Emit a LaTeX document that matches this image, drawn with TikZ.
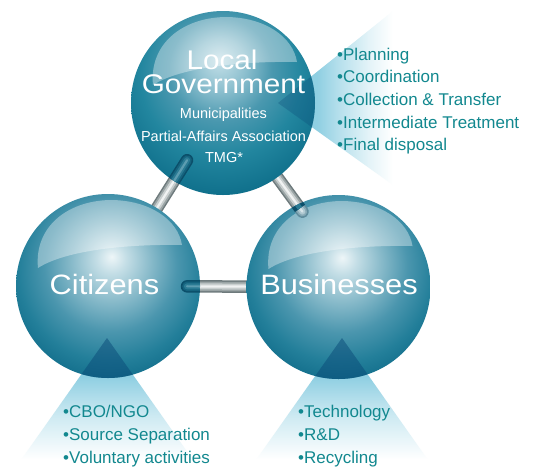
\documentclass[tikz,border=0pt]{standalone}
\usepackage{fontspec}
\setmainfont{Liberation Sans}
\newfontfamily\widefont[FakeStretch=1.1]{Liberation Sans}
\usetikzlibrary{calc}
\definecolor{conec}{HTML}{8FCFE2}
\definecolor{wedgec}{HTML}{0A4A78}
\definecolor{listc}{HTML}{12888F}
\definecolor{rodA}{HTML}{6E7A7C}
\definecolor{rodB}{HTML}{9AA4A5}
\definecolor{rodC}{HTML}{C9CFCF}
\definecolor{rodD}{HTML}{F0F2F2}
\definecolor{rdA}{HTML}{0B4F6A}
\definecolor{rdB}{HTML}{15637E}
\definecolor{rdC}{HTML}{2B7B94}
\definecolor{rdD}{HTML}{5C9CB0}
\definecolor{rlA}{HTML}{5F8C9D}
\definecolor{rlB}{HTML}{86A9B6}
\definecolor{rlC}{HTML}{AFC8D1}
\definecolor{rlD}{HTML}{D6E4E9}
\definecolor{lA}{HTML}{EEF6F8}
\definecolor{lB}{HTML}{C4DEE6}
\definecolor{lC}{HTML}{86B9C9}
\definecolor{lD}{HTML}{4B96AE}
\definecolor{lE}{HTML}{237F9A}
\definecolor{lF}{HTML}{0C6886}
\definecolor{tA}{HTML}{C6E1E9}
\definecolor{tB}{HTML}{8EC0CF}
\definecolor{tC}{HTML}{4A98AF}
\definecolor{tD}{HTML}{22869F}
\definecolor{tE}{HTML}{0D6D89}
\pgfdeclareradialshading{sphlow}{\pgfpoint{1bp}{8bp}}{color(0bp)=(lA); color(4bp)=(lB); color(11bp)=(lC); color(18bp)=(lD); color(25bp)=(lE); color(32bp)=(lF); color(60bp)=(lF)}
\pgfdeclareradialshading{sphtop}{\pgfpoint{-1bp}{12bp}}{color(0bp)=(tA); color(7bp)=(tB); color(14bp)=(tC); color(22bp)=(tD); color(32bp)=(tE); color(60bp)=(tE)}
\pgfdeclareverticalshading{coneV}{100bp}{color(0bp)=(white); color(28bp)=(white); color(45bp)=(conec!45!white); color(60bp)=(conec); color(100bp)=(conec)}
\pgfdeclarehorizontalshading{coneH}{100bp}{color(0bp)=(conec); color(41bp)=(conec); color(50bp)=(conec!65!white); color(62bp)=(conec!25!white); color(72bp)=(white); color(100bp)=(white)}
\newcommand\metalrod[6]{%
  \draw[line cap=round, line width=12.5pt, draw=#1] #5 -- #6;
  \draw[line cap=round, line width=9.5pt, draw=#2] #5 -- #6;
  \draw[line cap=round, line width=6pt, draw=#3] #5 -- #6;
  \draw[line cap=round, line width=2.2pt, draw=#4] #5 -- #6;}
\newcommand\glosscap[1]{%
  \fill[white, opacity=0.36] ($(#1)+(-70,-18)$) .. controls ($(#1)+(-74,-58)$) and ($(#1)+(-42,-85)$) .. ($(#1)+(2,-86)$) .. controls ($(#1)+(42,-86)$) and ($(#1)+(70,-66)$) .. ($(#1)+(74,-41)$) .. controls ($(#1)+(20,-42)$) and ($(#1)+(-42,-36)$) .. cycle;}
\tikzset{
  sphere/.style={circle, minimum size=184pt, inner sep=0pt, shade},
  bigw/.style={text=white, font=\widefont\fontsize{27}{27}\selectfont, inner sep=0pt, anchor=base},
  lowbig/.style={bigw, font=\widefont\fontsize{28}{28}\selectfont},
  smw/.style={text=white, font=\fontsize{14.5}{14.5}\selectfont, inner sep=0pt, anchor=base},
  item/.style={text=listc, font=\fontsize{17}{17}\selectfont, inner sep=0pt, anchor=base west}
}
\begin{document}
\begin{tikzpicture}[x=1pt,y=-1pt]
\fill[white] (0,0) rectangle (536,467);
\useasboundingbox (0,0) rectangle (536,467);
% light cones
\coordinate (ctop) at (278,103);
\coordinate (ccit) at (107,338);
\coordinate (cbus) at (342,338);
\shade[shading=coneH] (ctop) -- (393,11) -- (400,190) -- cycle;
\shade[shading=coneV] (ccit) -- ($(ccit)+(-91,129)$) -- ($(ccit)+(91,129)$) -- cycle;
\shade[shading=coneV] (cbus) -- ($(cbus)+(-91,129)$) -- ($(cbus)+(91,129)$) -- cycle;
% sphere centres
\coordinate (ptop) at (223,103);
\coordinate (pcit) at (108,286);
\coordinate (pbus) at (338.5,287);
\coordinate (r2aim) at (282,183.7);
% rods (gray parts)
\metalrod{rodA}{rodB}{rodC}{rodD}{($(pcit)!70pt!(ptop)$)}{($(pcit)!148.6pt!(ptop)$)}
\metalrod{rodA}{rodB}{rodC}{rodD}{($(ptop)!60pt!(r2aim)$)}{($(ptop)!134.6pt!(r2aim)$)}
\metalrod{rodA}{rodB}{rodC}{rodD}{($(pcit)!79pt!(pbus)$)}{($(pcit)!175pt!(pbus)$)}
% spheres
\node[sphere, shading=sphtop] (top) at (ptop) {};
\node[sphere, shading=sphlow] (cit) at (pcit) {};
\node[sphere, shading=sphlow] (bus) at (pbus) {};
\glosscap{top.center}
\glosscap{cit.center}
\glosscap{bus.center}
% dark wedges and rod ends inside spheres
\begin{scope}
  \clip (top.center) circle (92);
  \fill[wedgec, opacity=0.3] (ctop) -- (393,11) -- (400,190) -- cycle;
  \metalrod{rdA}{rdB}{rdC}{rdD}{($(cit.center)!70pt!(top.center)$)}{($(cit.center)!148.6pt!(top.center)$)}
\end{scope}
\begin{scope}
  \clip (cit.center) circle (92);
  \fill[wedgec, opacity=0.5] (ccit) -- ($(ccit)+(-91,129)$) -- ($(ccit)+(91,129)$) -- cycle;
  \metalrod{rdA}{rdB}{rdC}{rdD}{($(cit.center)!79pt!(bus.center)$)}{($(cit.center)!175pt!(bus.center)$)}
\end{scope}
\begin{scope}
  \clip (bus.center) circle (92);
  \fill[wedgec, opacity=0.5] (cbus) -- ($(cbus)+(-91,129)$) -- ($(cbus)+(91,129)$) -- cycle;
  \metalrod{rlA}{rlB}{rlC}{rlD}{($(top.center)!60pt!(r2aim)$)}{($(top.center)!134.6pt!(r2aim)$)}
  \draw[line width=12.5pt, draw=rdA] ($(top.center)!124pt!(r2aim)$) -- ($(top.center)!130.5pt!(r2aim)$);
  \draw[line width=5pt, draw=rdC] ($(top.center)!124pt!(r2aim)$) -- ($(top.center)!130.5pt!(r2aim)$);
\end{scope}
% big labels
\node[bigw] (t1) at (222,69.5) {Local};
\node[bigw] (t2) at (223.5,93.3) {Government};
\node[smw] (t3) at (223.5,118.5) {Municipalities};
\node[smw] (t4) at (223.5,141) {Partial-Affairs Association};
\node[smw] (t5) at (224,162.7) {TMG*};
\node[lowbig] (c1) at (104.5,294) {Citizens};
\node[lowbig] (b1) at (339,294) {Businesses};
% lists
\node[item] (g1) at (337,60) {\textbullet Planning};
\node[item] (g2) at (337,82.7) {\textbullet Coordination};
\node[item] (g3) at (337,105.4) {\textbullet Collection \& Transfer};
\node[item] (g4) at (337,128.1) {\textbullet Intermediate Treatment};
\node[item] (g5) at (337,150.8) {\textbullet Final disposal};
\node[item] (k1) at (63,417) {\textbullet CBO/NGO};
\node[item] (k2) at (63,440) {\textbullet Source Separation};
\node[item] (k3) at (63,463) {\textbullet Voluntary activities};
\node[item] (m1) at (298,417) {\textbullet Technology};
\node[item] (m2) at (298,440) {\textbullet R\&D};
\node[item] (m3) at (298,463) {\textbullet Recycling};
\end{tikzpicture}
\end{document}
